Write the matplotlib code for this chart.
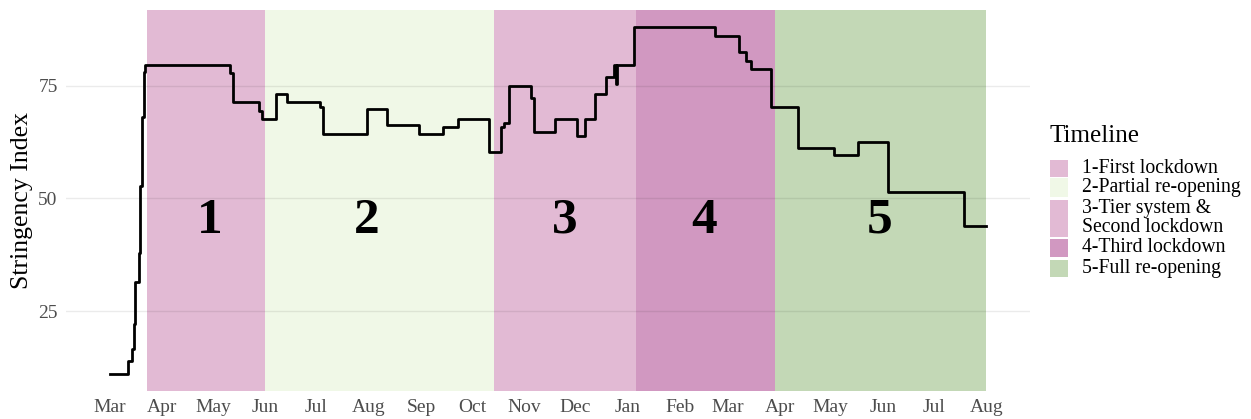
import pandas as pd
import matplotlib
matplotlib.use("Agg")
import matplotlib.pyplot as plt
import matplotlib.dates as mdates
from matplotlib.patches import Rectangle

plt.rcParams["font.family"] = ["Liberation Serif", "DejaVu Serif"]

# stringency index, value holds from each date until the next one
change_dates = ["2020-03-01", "2020-03-12", "2020-03-14", "2020-03-15", "2020-03-16",
                "2020-03-18", "2020-03-19", "2020-03-20", "2020-03-21", "2020-03-22",
                "2020-05-11", "2020-05-13", "2020-05-28", "2020-05-30", "2020-06-07",
                "2020-06-14", "2020-07-03", "2020-07-05", "2020-07-31", "2020-08-12",
                "2020-08-31", "2020-09-14", "2020-09-23", "2020-10-11", "2020-10-18",
                "2020-10-20", "2020-10-23", "2020-11-05", "2020-11-07", "2020-11-19",
                "2020-12-02", "2020-12-07", "2020-12-13", "2020-12-19", "2020-12-24",
                "2020-12-25", "2020-12-26", "2021-01-05", "2021-02-22", "2021-03-08",
                "2021-03-12", "2021-03-15", "2021-03-27", "2021-04-12", "2021-05-03",
                "2021-05-17", "2021-06-04", "2021-07-19", "2021-08-01"]
stringency = [11.11, 13.89, 16.67, 22.22, 31.48,
              38.0, 52.78, 68.06, 78.0, 79.63,
              77.78, 71.3, 69.44, 67.59, 73.15,
              71.3, 70.37, 64.35, 69.91, 66.2,
              64.35, 65.74, 67.59, 60.19, 65.74,
              66.67, 75.0, 72.22, 64.81, 67.59,
              63.89, 67.59, 73.15, 76.85, 79.63,
              75.46, 79.63, 87.96, 86.11, 82.41,
              80.56, 78.7, 70.37, 61.11, 59.72,
              62.5, 51.39, 43.98, 43.98]

# timeline phases
phase_labels = ["1-First lockdown", "2-Partial re-opening", "3-Tier system &\nSecond lockdown",
                "4-Third lockdown", "5-Full re-opening"]
phase_start = ["2020-03-23", "2020-06-01", "2020-10-14", "2021-01-06", "2021-03-29"]
phase_end = ["2020-06-01", "2020-10-14", "2021-01-06", "2021-03-29", "2021-08-01"]
phase_colors = ["#E2BAD4", "#F0F8E7", "#E2BAD4", "#D198C1", "#C3D8B6"]
phase_numbers = ["1", "2", "3", "4", "5"]
number_dates = ["2020-04-29", "2020-07-31", "2020-11-25", "2021-02-15", "2021-05-30"]
number_y = 45

y_ticks = [25, 50, 75]

dates = pd.to_datetime(change_dates)

fig = plt.figure(figsize=(12.51, 4.19), dpi=100)
ax = fig.add_axes([0.0528, 0.0668, 0.7705, 0.9093])

for s, e, c in zip(phase_start, phase_end, phase_colors):
    ax.axvspan(pd.Timestamp(s), pd.Timestamp(e), color=c, lw=0, zorder=0)

for d, n in zip(number_dates, phase_numbers):
    ax.text(pd.Timestamp(d), number_y, n, ha="center", va="center",
            fontsize=37, fontweight="bold", zorder=4)

ax.plot(dates, stringency, drawstyle="steps-post", color="black", lw=2, zorder=3)

# 5% expansion like ggplot
span = dates[-1] - dates[0]
ax.set_xlim(dates[0] - span * 0.05, dates[-1] + span * 0.05)
lo, hi = min(stringency), max(stringency)
ax.set_ylim(lo - (hi - lo) * 0.05, hi + (hi - lo) * 0.05)

ax.set_yticks(y_ticks)
ax.xaxis.set_major_locator(mdates.MonthLocator())
ax.xaxis.set_major_formatter(mdates.DateFormatter("%b"))
ax.tick_params(length=0, labelsize=14, labelcolor="#4D4D4D", pad=6)
ax.grid(axis="y", color="black", alpha=0.08, lw=1)
ax.set_axisbelow(False)
for sp in ax.spines.values():
    sp.set_visible(False)
ax.set_ylabel("Stringency Index", fontsize=18.5, labelpad=4)

# legend drawn by hand so the two-line key spans both lines
fig.text(1050 / 1251, 1 - 136 / 419, "Timeline", fontsize=18, va="center", ha="left")
key_tops = [159, 177, 199, 238, 259]
key_bottoms = [177, 197, 237, 257, 277]
for top, bot, c, lab in zip(key_tops, key_bottoms, phase_colors, phase_labels):
    fig.patches.append(Rectangle((1050 / 1251, 1 - bot / 419), 18 / 1251, (bot - top - 1) / 419,
                                 transform=fig.transFigure, color=c, lw=0))
    fig.text(1082 / 1251, 1 - (top + bot) / 2 / 419, lab, fontsize=14.2, va="center", ha="left",
             linespacing=1.0)

fig.savefig("out.png", dpi=100)
